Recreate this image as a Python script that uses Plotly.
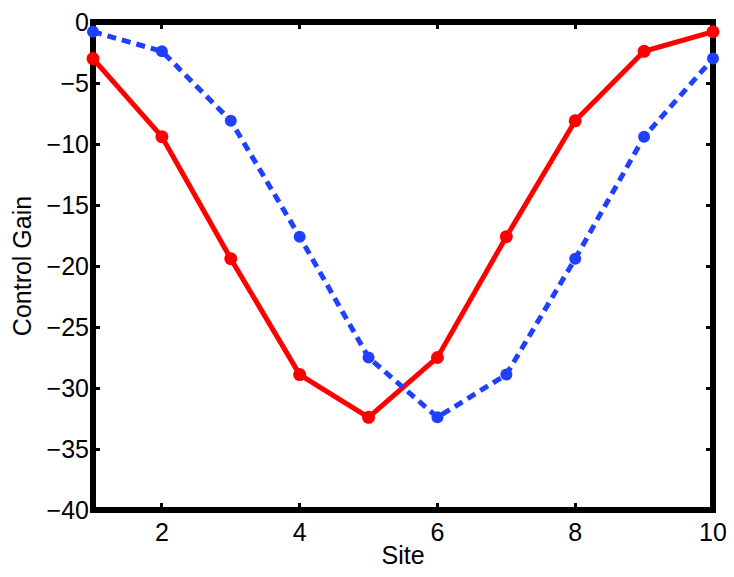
import plotly.graph_objects as go

sites = [1, 2, 3, 4, 5, 6, 7, 8, 9, 10]
red_gain = [-3.0, -9.4, -19.4, -28.9, -32.4, -27.5, -17.6, -8.1, -2.4, -0.8]
blue_gain = [-0.8, -2.4, -8.1, -17.6, -27.5, -32.4, -28.9, -19.4, -9.4, -3.0]

x_ticks = [2, 4, 6, 8, 10]
y_ticks = [0, -5, -10, -15, -20, -25, -30, -35, -40]

FONT = "Liberation Sans, Arial, Helvetica"

fig = go.Figure()
fig.add_trace(go.Scatter(
    x=sites, y=red_gain, mode="lines+markers", cliponaxis=False,
    line=dict(color="#ff0000", width=5),
    marker=dict(color="#ff0000", size=13),
    showlegend=False,
))
fig.add_trace(go.Scatter(
    x=sites, y=blue_gain, mode="lines+markers", cliponaxis=False,
    line=dict(color="#2040ff", width=5, dash="9px,6px"),
    marker=dict(color="#2040ff", size=12),
    showlegend=False,
))

axis_style = dict(
    showline=False, mirror="ticks", automargin=False, ticklabeloverflow="allow",
    ticks="inside", ticklen=7, tickwidth=3, tickcolor="black",
    showgrid=False, zeroline=False, layer="below traces",
    tickfont=dict(family=FONT, size=25, color="black"),
)

fig.update_xaxes(range=[1, 10], tickvals=x_ticks, ticklabelstandoff=5, **axis_style,
                 title=dict(text="Site", standoff=3,
                            font=dict(family=FONT, size=25, color="black")))
fig.update_yaxes(range=[-40, 0], tickvals=y_ticks, ticklabelstandoff=3, **axis_style,
                 title=dict(text="Control Gain", standoff=17,
                            font=dict(family=FONT, size=25, color="black")))

# thick black box centred on the plot edges
fig.add_shape(type="rect", xref="paper", yref="paper", x0=0, x1=1, y0=0, y1=1,
              line=dict(color="black", width=6), layer="below")

# page body adds an 8px margin, so the figure is 16px smaller than the window
fig.update_layout(
    width=718, height=561,
    margin=dict(l=85, r=13, t=14, b=59),
    paper_bgcolor="white", plot_bgcolor="white",
)

fig.write_html("out.html")
